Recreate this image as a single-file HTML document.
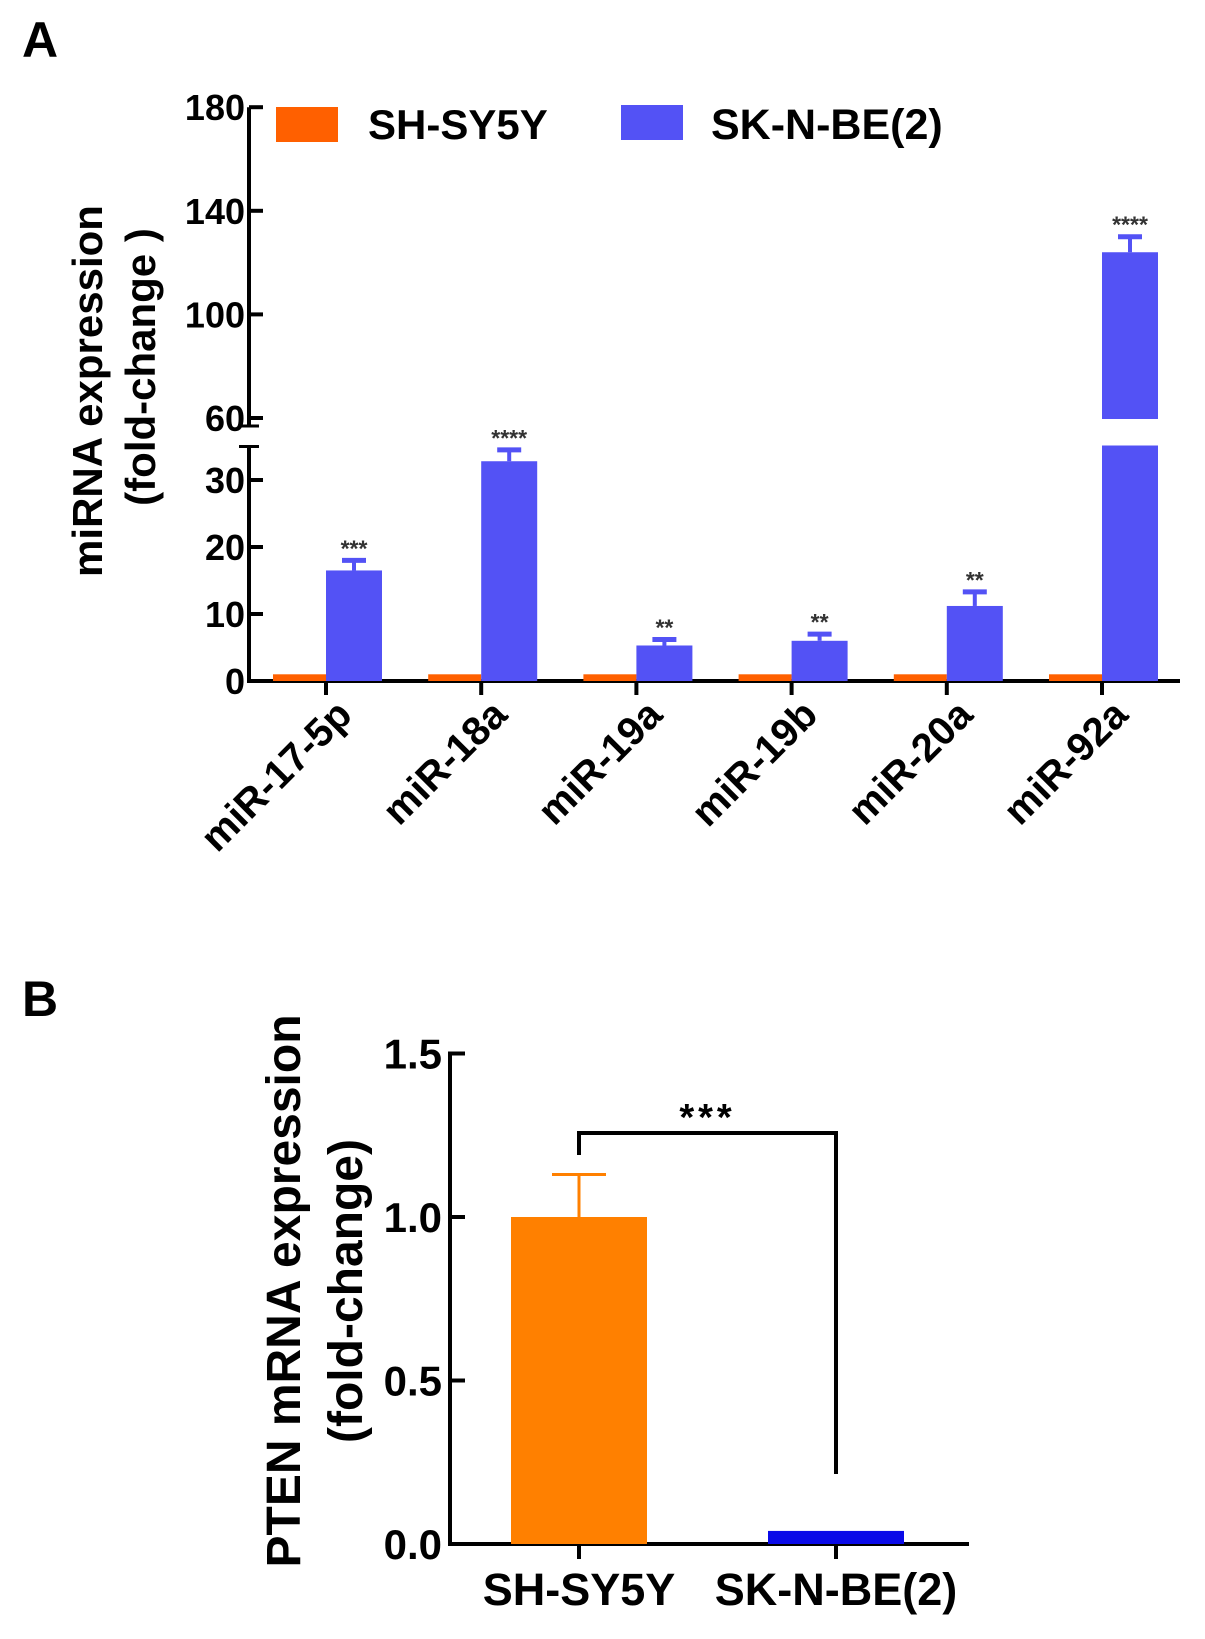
<!DOCTYPE html>
<html><head><meta charset="utf-8"><style>
html,body{margin:0;padding:0;background:#fff}
svg{display:block;font-family:"Liberation Sans",Arial,sans-serif;font-weight:bold}
</style></head><body>
<svg id="fig" width="1205" height="1639" viewBox="0 0 1205 1639" xmlns="http://www.w3.org/2000/svg">
<text x="22" y="57" font-size="50">A</text>
<text x="22" y="1016" font-size="50">B</text>
<g id="gA"></g>
<g id="gB"></g>
</svg>
<script>
const catsA = ["miR-17-5p","miR-18a","miR-19a","miR-19b","miR-20a","miR-92a"];
const shsy5yA = [1,1,1,1,1,1];
const skneA = [16.5,32.8,5.3,6.0,11.2,124];
const skneErrA = [1.5,1.7,0.9,1.0,2.1,6];
const starsA = ["***","****","**","**","**","****"];
const ticksLowA = [0,10,20,30];
const ticksHighA = [60,100,140,180];

const catsB = ["SH-SY5Y","SK-N-BE(2)"];
const valsB = [1.0,0.04];
const errB = [0.13,0];
const ticksB = ["0.0","0.5","1.0","1.5"];

const NS="http://www.w3.org/2000/svg";
function mk(p,tag,at){const e=document.createElementNS(NS,tag);for(const k in at)e.setAttribute(k,at[k]);p.appendChild(e);return e;}

// Panel A
const gA=document.getElementById('gA');
const ax0=249, xEnd=1180, y0=681;
function yA(v){ if(v<=35) return y0 - v*6.7; return 418 - (v-60)*2.59; }
function xA(i){ return 326 + i*155.2; }
let e;
e=mk(gA,'line',{x1:ax0,y1:y0,x2:ax0,y2:yA(35),stroke:'#000','stroke-width':4});


e=mk(gA,'line',{x1:ax0,y1:yA(60)+8,x2:ax0,y2:yA(180),stroke:'#000','stroke-width':4});


e=mk(gA,'line',{x1:ax0-2,y1:y0,x2:xEnd,y2:y0,stroke:'#000','stroke-width':4});


mk(gA,'line',{x1:ax0-10,y1:yA(35),x2:ax0+10,y2:yA(35),stroke:'#000','stroke-width':3});
mk(gA,'line',{x1:ax0-10,y1:yA(60)+8,x2:ax0+10,y2:yA(60)+8,stroke:'#000','stroke-width':3});
ticksLowA.concat(ticksHighA).forEach(t=>{
  const y=yA(t);
  mk(gA,'line',{x1:ax0,y1:y,x2:ax0+14,y2:y,stroke:'#000','stroke-width':4});
  const tx=mk(gA,'text',{x:ax0-4,y:y+13,'font-size':36,'text-anchor':'end'});
  tx.textContent=t;
  
  
});
catsA.forEach((c,i)=>{
  const cx=xA(i);
  const o=mk(gA,'rect',{x:cx-53,y:yA(shsy5yA[i]),width:53,height:y0-yA(shsy5yA[i]),fill:'#ff6000'});
  
  
  const top=yA(skneA[i]);
  const b=mk(gA,'rect',{x:cx,y:top,width:56,height:y0-top,fill:'#5352f5'});
  
  
  if(skneA[i]>60){
    mk(gA,'rect',{x:cx-2,y:yA(60)+1,width:60,height:yA(35)-yA(60)-2,fill:'#fff'});
  }
  const et=yA(skneA[i]+skneErrA[i]);
  mk(gA,'line',{x1:cx+28,y1:top,x2:cx+28,y2:et,stroke:'#5352f5','stroke-width':4});
  mk(gA,'line',{x1:cx+16,y1:et,x2:cx+40,y2:et,stroke:'#5352f5','stroke-width':5});
  const st=mk(gA,'text',{x:cx+28,y:et-4,'font-size':23,'text-anchor':'middle',fill:'#333'});
  st.textContent=starsA[i];
  
  
  mk(gA,'line',{x1:cx,y1:y0,x2:cx,y2:y0+14,stroke:'#000','stroke-width':4});
  const lb=mk(gA,'text',{x:0,y:0,'font-size':40,'text-anchor':'end',transform:`translate(${cx+28},${y0+36}) rotate(-45)`});
  lb.textContent=c;
  
  
});
// legend
e=mk(gA,'rect',{x:276,y:107,width:62,height:35,fill:'#ff6000'});


e=mk(gA,'text',{x:368,y:139,'font-size':42});e.textContent='SH-SY5Y';


e=mk(gA,'rect',{x:621,y:105,width:62,height:35,fill:'#5352f5'});


e=mk(gA,'text',{x:711,y:139,'font-size':43});e.textContent='SK-N-BE(2)';


// y title
e=mk(gA,'text',{x:0,y:0,'font-size':42,'text-anchor':'middle',transform:'translate(102,391) rotate(-90)'});e.textContent='miRNA expression';


e=mk(gA,'text',{x:0,y:0,'font-size':42,'text-anchor':'middle',transform:'translate(155,367) rotate(-90)'});e.textContent='(fold-change )';



// Panel B
const gB=document.getElementById('gB');
const bx0=450, by0=1544, bxEnd=969;
function yB(v){ return by0 - v*327; }
const xB=[579,836];
e=mk(gB,'line',{x1:bx0,y1:by0,x2:bx0,y2:yB(1.5)-2,stroke:'#000','stroke-width':4});


e=mk(gB,'line',{x1:bx0-2,y1:by0,x2:bxEnd,y2:by0,stroke:'#000','stroke-width':4});


ticksB.forEach(t=>{
  const y=yB(parseFloat(t));
  mk(gB,'line',{x1:bx0,y1:y,x2:bx0+15,y2:y,stroke:'#000','stroke-width':4});
  const tx=mk(gB,'text',{x:bx0-8,y:y+15,'font-size':42,'text-anchor':'end'});
  tx.textContent=t;
  
  
});
const colB=['#ff8000','#0a0ae8'];
catsB.forEach((c,i)=>{
  const cx=xB[i], top=yB(valsB[i]);
  const r=mk(gB,'rect',{x:cx-68,y:top,width:136,height:by0-top,fill:colB[i]});
  
  
  if(errB[i]>0){
    const et=yB(valsB[i]+errB[i]);
    mk(gB,'line',{x1:cx,y1:top,x2:cx,y2:et,stroke:colB[i],'stroke-width':3});
    mk(gB,'line',{x1:cx-27,y1:et,x2:cx+27,y2:et,stroke:colB[i],'stroke-width':3});
  }
  mk(gB,'line',{x1:cx,y1:by0,x2:cx,y2:by0+15,stroke:'#000','stroke-width':4});
  const lb=mk(gB,'text',{x:cx,y:1605,'font-size':45,'text-anchor':'middle'});
  lb.textContent=c;
  
  
});
e=mk(gB,'path',{d:`M${xB[0]} 1155 V1133 H${xB[1]} V1474`,fill:'none',stroke:'#000','stroke-width':4});


e=mk(gB,'text',{x:(xB[0]+xB[1])/2,y:1130,'font-size':38,'text-anchor':'middle','letter-spacing':'4'});e.textContent='***';


e=mk(gB,'text',{x:0,y:0,'font-size':48,'text-anchor':'middle',transform:'translate(300,1291) rotate(-90)'});e.textContent='PTEN mRNA expression';


e=mk(gB,'text',{x:0,y:0,'font-size':48,'text-anchor':'middle',transform:'translate(362,1291) rotate(-90)'});e.textContent='(fold-change)';


</script>
</body></html>
